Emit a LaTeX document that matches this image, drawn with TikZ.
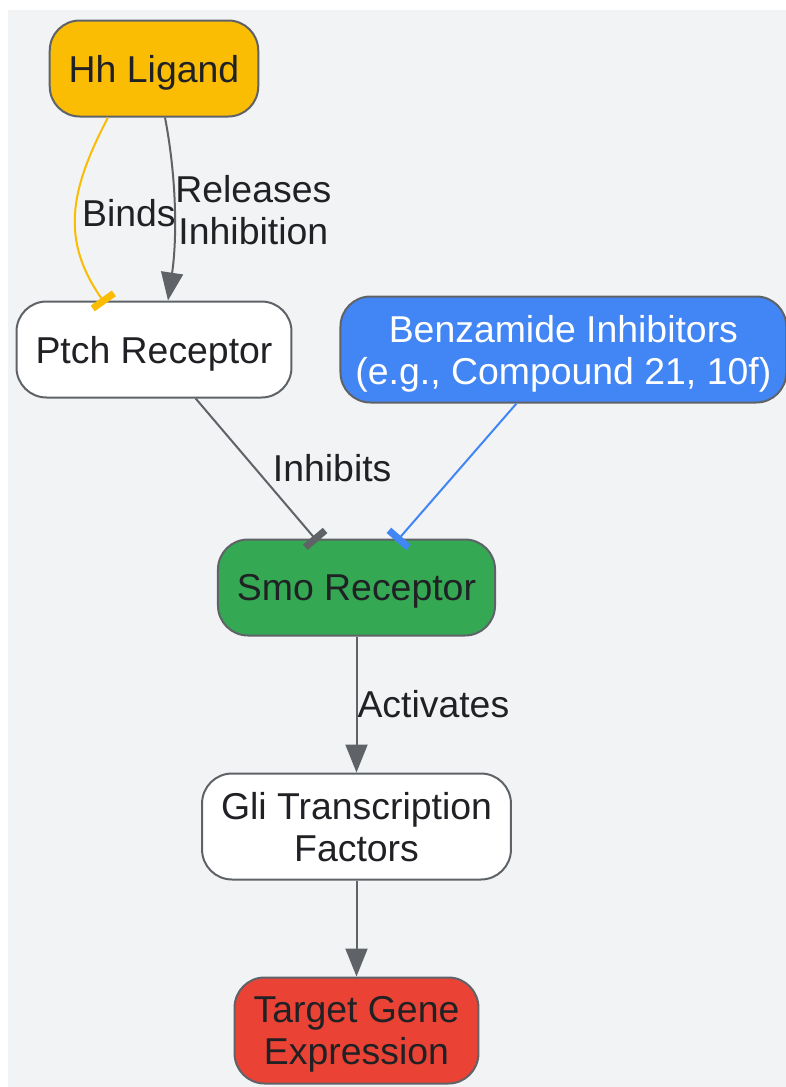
\documentclass[tikz,border=0pt]{standalone}
\usepackage{fontspec}
\setmainfont{Liberation Sans}
\usetikzlibrary{positioning, arrows.meta}

\definecolor{bggray}{HTML}{F1F3F4}
\definecolor{linegray}{HTML}{5F6368}
\definecolor{textdark}{HTML}{202124}
\definecolor{hhyellow}{HTML}{FBBC04}
\definecolor{benzblue}{HTML}{4285F4}
\definecolor{smogreen}{HTML}{34A853}
\definecolor{genered}{HTML}{EA4335}

\begin{document}
\begin{tikzpicture}[x=0.5pt, y=-0.5pt,
  roundbox/.style={rectangle, rounded corners=15pt, draw=linegray, line width=1pt, inner xsep=9.5pt, minimum height=48pt, text depth=0pt, align=center, text=textdark, font=\fontsize{18.7}{21}\selectfont},
  tallbox/.style={minimum height=53pt},
  edgelabel/.style={text=textdark, align=center, font=\fontsize{18.7}{21}\selectfont},
  arrowline/.style={-{Triangle[width=11pt, length=14pt]}, draw=linegray, line width=1pt},
  teeline/.style={-{Bar[width=13pt, line width=3.5pt]}, line width=1pt, shorten >=-2pt}]
\useasboundingbox (0,0) rectangle (786,1087);
\fill[bggray] (8,10) rectangle (786,1087);
\node[roundbox, fill=hhyellow]          (hhligand)   at (154,68.5) {Hh Ligand};
\node[roundbox, fill=white]             (ptchreceptor) [below=91.5pt of hhligand] {Ptch Receptor};
\node[roundbox, tallbox, fill=benzblue, text=white, inner xsep=7.5pt] (benzamide) [right=23.5pt of ptchreceptor] {Benzamide Inhibitors\\(e.g., Compound 21, 10f)};
\node[roundbox, fill=smogreen]          (smoreceptor) [below=70pt of ptchreceptor, xshift=101.25pt] {Smo Receptor};
\node[roundbox, tallbox, fill=white]    (glifactors) [below=68pt of smoreceptor] {Gli Transcription\\Factors};
\node[roundbox, tallbox, fill=genered]  (targetgene) [below=48pt of glifactors] {Target Gene\\Expression};
% Hh ligand to Ptch
\draw[teeline, draw=hhyellow] ([xshift=-23pt]hhligand.south) .. controls (70,190) and (60,240) .. ([xshift=-25.5pt]ptchreceptor.north)
  node[edgelabel, pos=0.5, right, inner sep=3pt] {Binds};
\draw[arrowline] ([xshift=5.5pt]hhligand.south) .. controls (177,180) and (177,240) .. ([xshift=7pt]ptchreceptor.north)
  node[edgelabel, pos=0.5, right, inner sep=0pt] {Releases\\Inhibition};
% inhibition of Smo
\draw[teeline, draw=linegray] (ptchreceptor) -- (smoreceptor) node[edgelabel, pos=0.5, right=5pt] {Inhibits};
\draw[teeline, draw=benzblue] (benzamide) -- (smoreceptor);
% downstream
\draw[arrowline] (smoreceptor) -- (glifactors) node[edgelabel, pos=0.5, right, inner sep=0pt] {Activates};
\draw[arrowline] (glifactors) -- (targetgene);
\end{tikzpicture}
\end{document}
